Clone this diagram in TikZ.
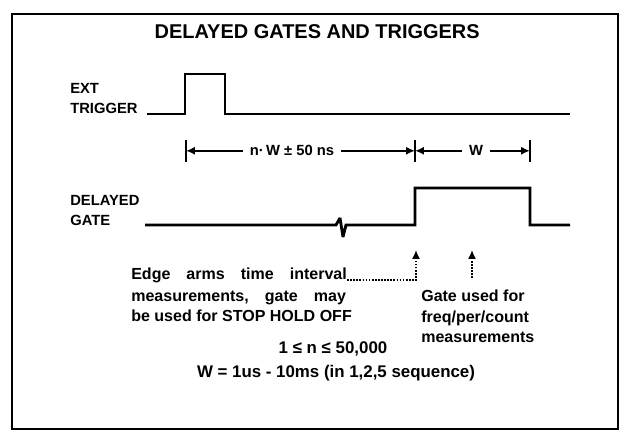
\documentclass[tikz,border=0pt]{standalone}
\usepackage{fontspec}
\setmainfont{Liberation Sans}
\usetikzlibrary{arrows.meta,positioning,calc}

\begin{document}
\begin{tikzpicture}[
    >={Latex[length=2.2mm,width=2mm]},
    frm/.style={line width=1.8pt},
    wave/.style={line width=2pt,line join=miter,miter limit=2},
    ttl/.style={font=\bfseries\fontsize{14.2}{17}\selectfont},
    lab/.style={font=\bfseries\fontsize{10.5}{12}\selectfont,anchor=west,inner sep=0pt},
    dlab/.style={font=\bfseries\fontsize{10.5}{12}\selectfont,inner xsep=5pt},
    txt/.style={font=\bfseries\fontsize{11.4}{14.6}\selectfont,inner sep=0pt},
    rng/.style={font=\bfseries\fontsize{12}{14.6}\selectfont,inner sep=0pt},
    dim/.style={->,line width=1.4pt},
    tck/.style={line width=1.4pt},
    ptr/.style={->,densely dotted,line width=1.2pt}]
\useasboundingbox (0,0) rectangle (15.575,10.8);
% ===== outer frame and title =====
\draw[frm] (0.30,0.08) rectangle (15.45,10.45);
\node[ttl] (title) at (7.93,10.0) {DELAYED GATES AND TRIGGERS};
% ===== EXT trigger trace =====
\node[lab] (ext) at (1.75,8.6) {EXT};
\node[lab] (trg) at (1.75,8.1) {TRIGGER};
\draw[wave] (3.675,7.95) -- (4.625,7.95) -- (4.625,8.95) -- (5.625,8.95)
  -- (5.625,7.95) -- (14.25,7.95);
% ===== timing dimensions =====
\coordinate (t0) at (4.65,7.03);
\coordinate (t1) at (10.375,7.03);
\coordinate (t2) at (13.25,7.03);
\foreach \t in {t0,t1,t2}
  \draw[tck] ($(\t)+(0,0.28)$) -- ($(\t)+(0,-0.28)$);
\node[dlab] (nw) at (7.3,7.03) {n·\,W ± 50 ns};
\node[dlab] (w) at (11.9,7.03) {W};
\draw[dim] (nw.west) -- (t0);
\draw[dim] (nw.east) -- (t1);
\draw[dim] (w.west) -- (t1);
\draw[dim] (w.east) -- (t2);
% ===== delayed gate trace =====
\node[lab] (dly) at (1.75,5.8) {DELAYED};
\node[lab] (gte) at (1.75,5.3) {GATE};
\draw[wave] (3.625,5.175) -- (8.4,5.175) -- (8.5,5.35) -- (8.575,4.875)
  -- (8.65,5.175) -- (10.375,5.175) -- (10.375,6.1) -- (13.25,6.1)
  -- (13.25,5.175) -- (14.25,5.175);
% ===== pointers to the gate edges =====
\node[txt,anchor=base west] (edge1) at (3.275,3.8) {Edge\quad arms\quad time\quad interval};
\node[txt,anchor=base west] (edge2) at (3.275,3.27) {measurements,\quad gate\quad may};
\node[txt,anchor=base west] (edge3) at (3.275,2.76) {be used for STOP HOLD OFF};
\coordinate (armtip) at (10.4,4.55);
\draw[ptr] (edge1.base east) -| (armtip);
\node[txt,anchor=north west,align=left] (gtxt) at (10.525,3.55)
  {Gate used for\\freq/per/count\\measurements};
\coordinate (gatetail) at (11.8,3.85);
\coordinate (gatetip) at (11.8,4.55);
\draw[ptr] (gatetail) -- (gatetip);
% ===== ranges =====
\node[rng] (nrange) at (8.325,2.07) {1 ≤ n ≤ 50,000};
\node[rng] (wrange) at (8.4,1.47) {W = 1us - 10ms (in 1,2,5 sequence)};
\end{tikzpicture}
\end{document}
